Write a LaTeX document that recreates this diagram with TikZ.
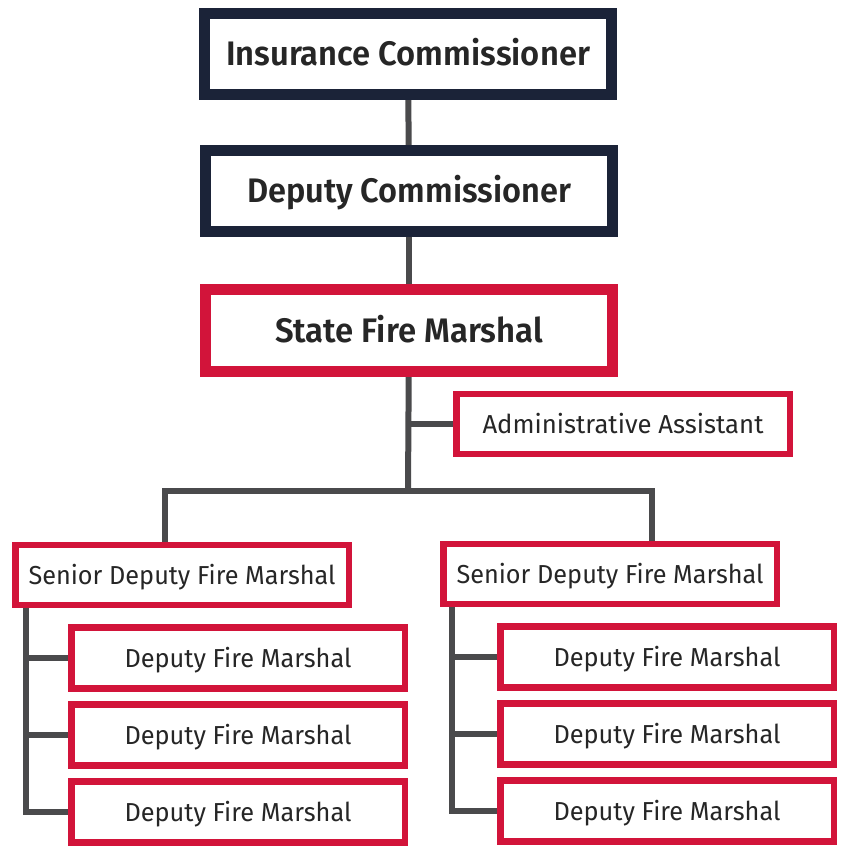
\documentclass[tikz,border=0pt]{standalone}
\usepackage{fontspec}
\setmainfont{Fira Sans}[BoldFont={Fira Sans SemiBold}]
\usepackage{graphicx}
\usetikzlibrary{backgrounds}
\definecolor{navy}{HTML}{1B2338}
\definecolor{crim}{HTML}{D2143A}
\definecolor{linegray}{HTML}{4A4A4C}
\definecolor{txt}{HTML}{262626}
\newlength\fitlen
\newcommand\fitto[2]{\settowidth\fitlen{#2}\pgfmathsetmacro\fitsx{#1/\fitlen}\scalebox{\fitsx}[1]{#2}}
\tikzset{
  topbox/.style={draw=navy, line width=11pt, fill=white, inner sep=0pt,
    minimum width=407pt, minimum height=81pt, text=txt,
    font=\fontsize{34}{34}\selectfont\bfseries, text height=23.5pt, text depth=0pt},
  redtop/.style={topbox, draw=crim},
  smallbox/.style={draw=crim, line width=6.5pt, fill=white, inner sep=0pt,
    minimum width=333.5pt, minimum height=60pt, text=txt,
    font=\fontsize{26}{26}\selectfont, text height=18pt, text depth=0pt},
  dfmbox/.style={smallbox, minimum height=61pt},
  conn/.style={draw=linegray, line width=6pt},
}
\begin{document}
\begin{tikzpicture}[x=1pt,y=-1pt]
\useasboundingbox (0,0) rectangle (843,846);
\coordinate (barM) at (408,491);
\coordinate (barL) at (165,491);
\coordinate (barR) at (652,491);
\coordinate (trL) at (26,0);
\coordinate (trR) at (452,0);

\node[topbox] (ic) at (408,54) {\fitto{364}{Insurance Commissioner}};
\node[topbox] (dc) at (409,190.5) {\fitto{324}{Deputy Commissioner}};
\node[redtop, minimum height=82pt] (sfm) at (409,330.5) {\fitto{268}{State Fire Marshal}};
\node[smallbox] (adm) at (623,424) {\fitto{281}{Administrative Assistant}};
\node[smallbox] (lsd) at (182,575) {\fitto{307}{Senior Deputy Fire Marshal}};
\node[smallbox] (rsd) at (610,574) {\fitto{307}{Senior Deputy Fire Marshal}};
\node[dfmbox] (ld1) at (238,658) {\fitto{227}{Deputy Fire Marshal}};
\node[dfmbox] (ld2) at (238,735) {\fitto{227}{Deputy Fire Marshal}};
\node[dfmbox] (ld3) at (238,812) {\fitto{227}{Deputy Fire Marshal}};
\node[dfmbox] (rd1) at (667,657) {\fitto{227}{Deputy Fire Marshal}};
\node[dfmbox] (rd2) at (667,734) {\fitto{227}{Deputy Fire Marshal}};
\node[dfmbox] (rd3) at (667,811) {\fitto{227}{Deputy Fire Marshal}};

\begin{scope}[on background layer]
\fill[white] (0,0) rectangle (843,846);
\path[conn] (ic.center) -- (dc.center);
\path[conn] (dc.center) -- (sfm.center);
\path[conn] (sfm.center) -- (barM);
\path[conn] (barM |- adm.west) -- (adm.center);
\path[conn, line cap=rect] (barL) -- (barR);
\path[conn] (barL) -- (barL |- lsd.center);
\path[conn] (barR) -- (barR |- rsd.center);
\path[conn] (trL |- lsd.center) -- (trL |- ld3.west) -- (ld3.center);
\path[conn] (trL |- ld1.west) -- (ld1.center);
\path[conn] (trL |- ld2.west) -- (ld2.center);
\path[conn] (trR |- rsd.center) -- (trR |- rd3.west) -- (rd3.center);
\path[conn] (trR |- rd1.west) -- (rd1.center);
\path[conn] (trR |- rd2.west) -- (rd2.center);
\end{scope}
\end{tikzpicture}
\end{document}
